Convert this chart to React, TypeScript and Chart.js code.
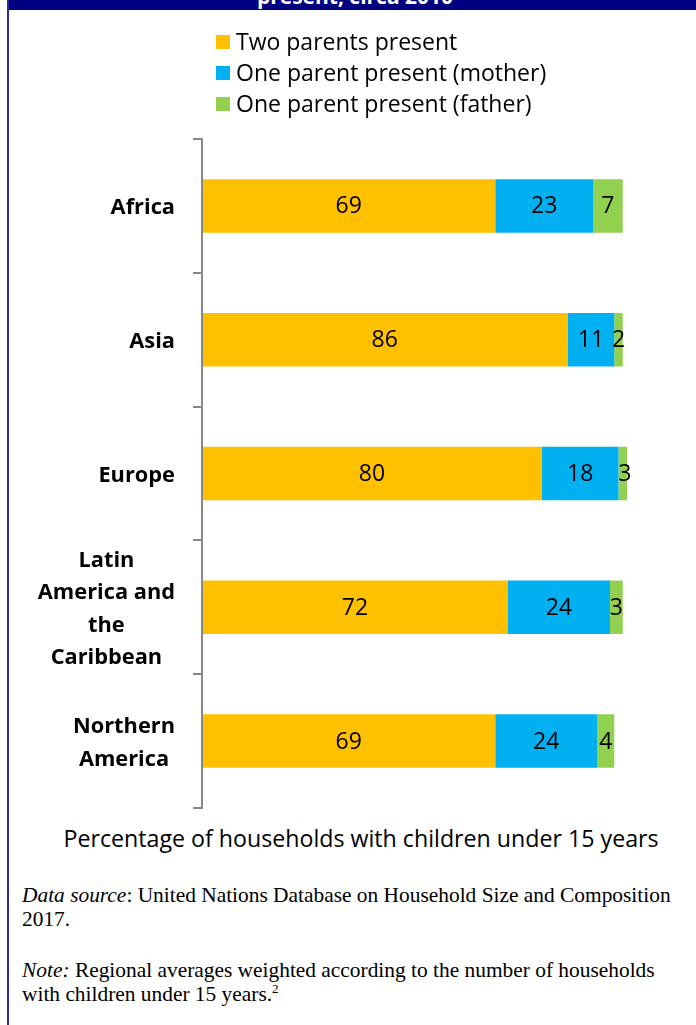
import React, { useEffect, useRef } from "react";
import { Chart, registerables } from "chart.js";
Chart.register(...registerables);

// ---- data ----
const categories: string[][] = [
  ["Africa"],
  ["Asia"],
  ["Europe"],
  ["Latin", "America and", "the", "Caribbean"],
  ["Northern", "America"],
];
const twoParents = [69, 86, 80, 72, 69];
const motherOnly = [23, 11, 18, 24, 24];
const fatherOnly = [7, 2, 3, 3, 4];
const seriesNames = ["Two parents present", "One parent present (mother)", "One parent present (father)"];
const seriesColors = ["#FFC000", "#00B0F0", "#92D050"];
const xMin = 0;
const xMax = 100;
const axisTitle = "Percentage of households with children under 15 years";

const SANS = "'Open Sans', Lato, sans-serif";
const SERIF = "'Liberation Serif', 'Times New Roman', serif";

const legendPlugin = {
  id: "customLegend",
  afterDraw(chart: any) {
    const { ctx } = chart;
    ctx.save();
    ctx.font = `23px ${SANS}`;
    ctx.textBaseline = "middle";
    ctx.textAlign = "left";
    chart.data.datasets.forEach((ds: any, i: number) => {
      const cy = 42 + i * 31;
      ctx.fillStyle = ds.backgroundColor;
      ctx.fillRect(216, cy - 7, 14, 14);
      ctx.fillStyle = "#000";
      ctx.fillText(ds.label, 236, cy + 1);
    });
    ctx.restore();
  },
};

const categoryLabelPlugin = {
  id: "catLabels",
  afterDraw(chart: any) {
    const { ctx } = chart;
    const y = chart.scales.y;
    ctx.save();
    ctx.font = `bold 21.8px ${SANS}`;
    ctx.fillStyle = "#000";
    ctx.textBaseline = "middle";
    ctx.textAlign = "center";
    const rightEdge = y.left - 18;
    const lh = 32.5;
    chart.data.labels.forEach((lab: any, i: number) => {
      const lines: string[] = Array.isArray(lab) ? lab : [lab];
      const w = Math.max(...lines.map((l) => ctx.measureText(l).width));
      const cx = rightEdge - w / 2;
      const cy = y.getPixelForValue(i) + 2;
      lines.forEach((l, k) => ctx.fillText(l, cx, cy + (k - (lines.length - 1) / 2) * lh));
    });
    ctx.restore();
  },
};

const valueLabelPlugin = {
  id: "valueLabels",
  afterDatasetsDraw(chart: any) {
    const { ctx } = chart;
    ctx.save();
    ctx.font = `23px ${SANS}`;
    ctx.fillStyle = "#000";
    ctx.textBaseline = "middle";
    ctx.textAlign = "center";
    chart.data.datasets.forEach((ds: any, di: number) => {
      const meta = chart.getDatasetMeta(di);
      meta.data.forEach((el: any, i: number) => {
        const { x, base, y } = el.getProps(["x", "base", "y"], true);
        ctx.fillText(String(ds.data[i]), (x + base) / 2, y + 1);
      });
    });
    ctx.restore();
  },
};

function BarChart() {
  const ref = useRef<HTMLCanvasElement>(null);
  useEffect(() => {
    if (!ref.current) return;
    const values = [twoParents, motherOnly, fatherOnly];
    const chart = new Chart(ref.current, {
      type: "bar",
      data: {
        labels: categories,
        datasets: values.map((v, i) => ({
          label: seriesNames[i],
          data: v,
          backgroundColor: seriesColors[i],
          borderWidth: 0,
          barPercentage: 0.4,
          categoryPercentage: 1,
        })),
      },
      options: {
        indexAxis: "y",
        responsive: false,
        animation: false,
        devicePixelRatio: 1,
        layout: { padding: { left: 193, top: 139, right: 69, bottom: 12 } },
        plugins: { legend: { display: false }, tooltip: { enabled: false }, title: { display: false } },
        scales: {
          x: { display: false, stacked: true, min: xMin, max: xMax },
          y: {
            stacked: true,
            offset: true,
            ticks: { display: false },
            grid: {
              offset: true,
              drawOnChartArea: false,
              drawTicks: true,
              tickLength: 9,
              color: "#888888",
              lineWidth: 2,
            },
            border: { display: true, color: "#888888", width: 2, z: 1 },
          },
        },
      } as any,
      plugins: [legendPlugin, categoryLabelPlugin, valueLabelPlugin],
    });
    return () => chart.destroy();
  }, []);
  return <canvas ref={ref} width={696} height={820} style={{ position: "absolute", left: 0, top: 0 }} />;
}

export default function App() {
  useEffect(() => {
    document.body.style.margin = "0";
  }, []);
  return (
    <div style={{ position: "relative", width: 696, height: 1025, overflow: "hidden", background: "#fff" }}>
      <BarChart />
      <div style={{ position: "absolute", left: 7, top: 0, width: 2, height: 1025, background: "#2A2A9A" }} />
      <div style={{ position: "absolute", left: 9, top: 0, width: 692, height: 10, background: "#000080", overflow: "hidden" }}>
        <div
          style={{
            position: "absolute",
            left: 0,
            width: 692,
            top: -15,
            textAlign: "center",
            color: "#fff",
            fontFamily: SANS,
            fontWeight: "bold",
            fontSize: 21,
            lineHeight: "22px",
            whiteSpace: "nowrap",
          }}
        >
          present, circa 2010
        </div>
      </div>
      <div
        style={{
          position: "absolute",
          left: 26,
          width: 670,
          top: 823,
          textAlign: "center",
          fontFamily: SANS,
          fontSize: 23.2,
          lineHeight: "30px",
          whiteSpace: "nowrap",
          color: "#000",
        }}
      >
        {axisTitle}
      </div>
      <div style={{ position: "absolute", left: 22, top: 883, fontFamily: SERIF, fontSize: 21.4, lineHeight: "24px", color: "#000", whiteSpace: "nowrap" }}>
        <i>Data source</i>: United Nations Database on Household Size and Composition
        <br />
        2017.
      </div>
      <div style={{ position: "absolute", left: 22, top: 958, fontFamily: SERIF, fontSize: 21.4, lineHeight: "24px", color: "#000", whiteSpace: "nowrap" }}>
        <i>Note:</i> Regional averages weighted according to the number of households
        <br />
        with children under 15 years.<sup style={{ fontSize: 13, lineHeight: 0 }}>2</sup>
      </div>
    </div>
  );
}
